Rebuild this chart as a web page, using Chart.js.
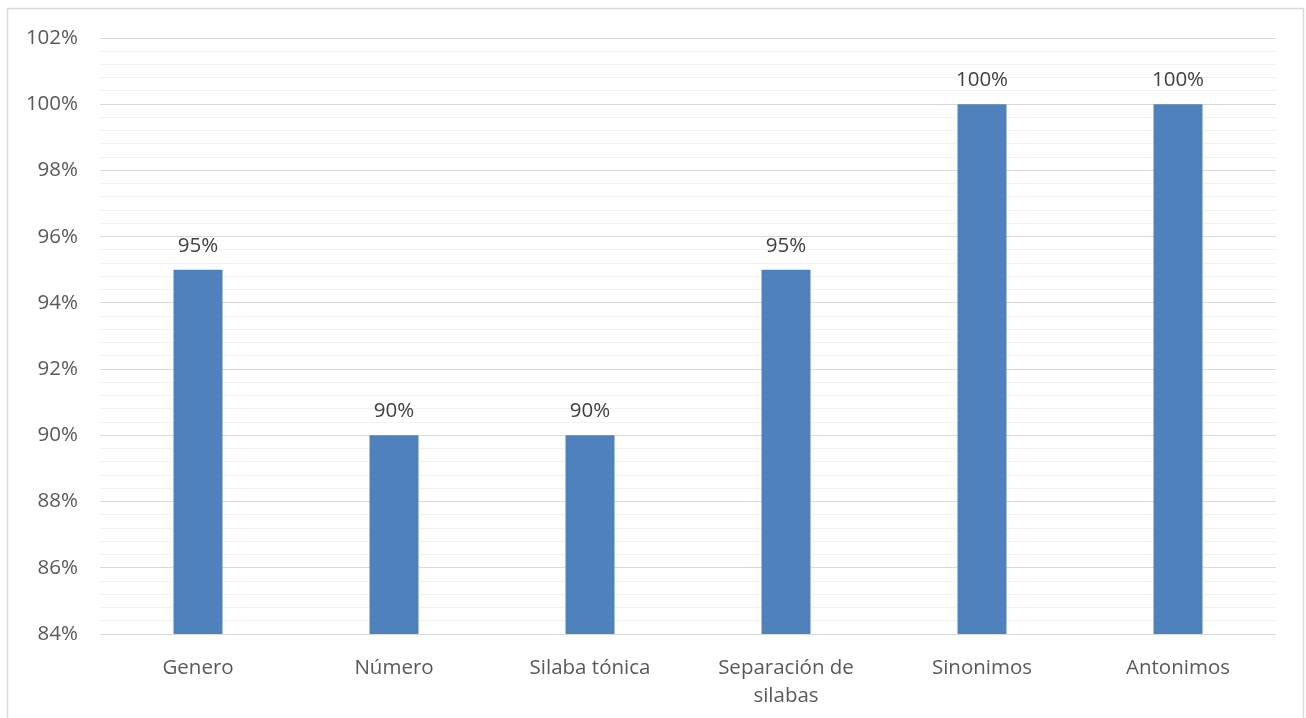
<!DOCTYPE html>
<html>
<head>
<meta charset="utf-8">
<script src="https://cdn.jsdelivr.net/npm/chart.js@4.4.1/dist/chart.umd.min.js"></script>
<style>
html,body{margin:0;padding:0;background:#fff;}
canvas{display:block;}
</style>
</head>
<body>
<canvas id="c" width="1306" height="718"></canvas>
<script>
const categories = ["Genero", "Número", "Silaba tónica", ["Separación de", "silabas"], "Sinonimos", "Antonimos"];
const values = [95, 90, 90, 95, 100, 100];
const yMin = 84, yMax = 102, yMinorStep = 0.4, yMajorStep = 2;

const FONT = "'Open Sans', sans-serif";

const framePlugin = {
  id: 'frame',
  beforeDraw(chart) {
    const ctx = chart.ctx;
    ctx.save();
    ctx.fillStyle = '#fff';
    ctx.fillRect(0, 0, chart.width, chart.height);
    ctx.strokeStyle = '#d9d9d9';
    ctx.lineWidth = 1.5;
    ctx.strokeRect(7.5, 8.5, 1296, 730);
    ctx.restore();
  }
};

const labelPlugin = {
  id: 'valLabels',
  afterDatasetsDraw(chart) {
    const ctx = chart.ctx;
    const meta = chart.getDatasetMeta(0);
    ctx.save();
    ctx.font = '20.5px ' + FONT;
    ctx.fillStyle = '#404040';
    ctx.textAlign = 'center';
    ctx.textBaseline = 'middle';
    meta.data.forEach((bar, i) => {
      ctx.fillText(values[i] + '%', bar.x, bar.y - 24);
    });
    ctx.restore();
  }
};

const isMajor = v => Math.abs(v / yMajorStep - Math.round(v / yMajorStep)) < 1e-6;

new Chart(document.getElementById('c'), {
  type: 'bar',
  data: {
    labels: categories,
    datasets: [{
      data: values,
      backgroundColor: '#4f81bd',
      borderWidth: 0,
      barPercentage: 0.25,
      categoryPercentage: 1
    }]
  },
  options: {
    responsive: false,
    animation: false,
    layout: { padding: { left: 0, right: 30, top: 38, bottom: 0 } },
    plugins: { legend: { display: false }, tooltip: { enabled: false } },
    scales: {
      x: {
        grid: { display: false },
        border: { display: false },
        ticks: {
          color: '#595959',
          font: { family: FONT, size: 20.5, lineHeight: 1.33 },
          padding: 13,
          maxRotation: 0,
          autoSkip: false
        },
        afterFit(scale) { scale.height = 84; }
      },
      y: {
        min: yMin,
        max: yMax,
        border: { display: false },
        grid: {
          drawTicks: false,
          lineWidth: 1,
          color: ctx => (ctx.tick && isMajor(ctx.tick.value)) ? '#d9d9d9' : '#f2f2f2'
        },
        ticks: {
          stepSize: yMinorStep,
          maxTicksLimit: 200,
          autoSkip: false,
          padding: 22,
          color: '#595959',
          font: { family: FONT, size: 20.5 },
          callback: v => isMajor(v) ? Math.round(v) + '%' : ''
        },
        afterFit(scale) { scale.width = 100; }
      }
    }
  },
  plugins: [framePlugin, labelPlugin]
});
</script>
</body>
</html>
